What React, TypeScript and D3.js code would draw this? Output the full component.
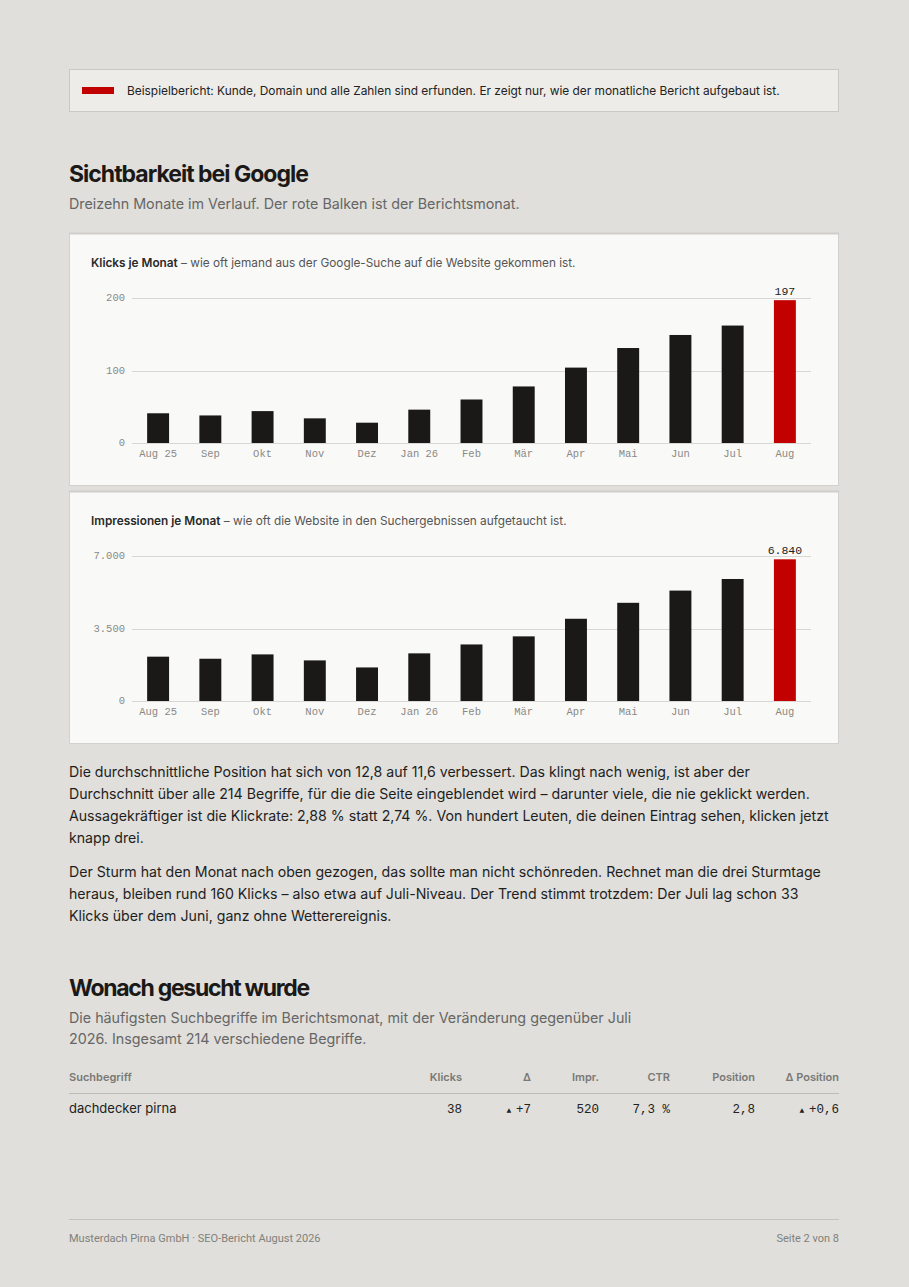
import { useEffect, useRef } from 'react';
import * as d3 from 'd3';

const months = ['Aug 25', 'Sep', 'Okt', 'Nov', 'Dez', 'Jan 26', 'Feb', 'Mär', 'Apr', 'Mai', 'Jun', 'Jul', 'Aug'];
const clicks = [41, 38, 44, 34, 28, 46, 60, 78, 104, 131, 149, 162, 197];
const impressions = [2140, 2040, 2250, 1960, 1620, 2300, 2730, 3120, 3970, 4740, 5330, 5890, 6840];
const clickTicks = [0, 100, 200];
const imprTicks = [0, 3500, 7000];

const tableHeaders = ['Suchbegriff', 'Klicks', 'Δ', 'Impr.', 'CTR', 'Position', 'Δ Position'];
const tableRow = ['dachdecker pirna', '38', '+7', '520', '7,3 %', '2,8', '+0,6'];

const paragraph1 = [
  'Die durchschnittliche Position hat sich von 12,8 auf 11,6 verbessert. Das klingt nach wenig, ist aber der',
  'Durchschnitt über alle 214 Begriffe, für die die Seite eingeblendet wird – darunter viele, die nie geklickt werden.',
  'Aussagekräftiger ist die Klickrate: 2,88 % statt 2,74 %. Von hundert Leuten, die deinen Eintrag sehen, klicken jetzt',
  'knapp drei.',
];
const paragraph2 = [
  'Der Sturm hat den Monat nach oben gezogen, das sollte man nicht schönreden. Rechnet man die drei Sturmtage',
  'heraus, bleiben rund 160 Klicks – also etwa auf Juli-Niveau. Der Trend stimmt trotzdem: Der Juli lag schon 33',
  'Klicks über dem Juni, ganz ohne Wetterereignis.',
];

const W = 909;
const H = 1287;
const SANS = "Inter, 'Noto Sans', sans-serif";
const MONO = "'Liberation Mono', 'DejaVu Sans Mono', monospace";
const NARROW = "'Liberation Sans Narrow', Roboto, sans-serif";
const RED = '#c20000';
const INK = '#1b1917';

const de = d3.formatLocale({ decimal: ',', thousands: '.', grouping: [3], currency: ['', ' €'] });
const fmt = de.format(',');

type Svg = d3.Selection<SVGSVGElement, unknown, null, undefined>;

function drawCard(
  svg: Svg,
  top: number,
  title: string,
  note: string,
  values: number[],
  ticks: number[],
) {
  const left = 69;
  const right = 839;
  svg.append('rect')
    .attr('x', left + 0.5)
    .attr('y', top + 0.5)
    .attr('width', right - left - 1)
    .attr('height', 252)
    .attr('fill', '#f9f9f7')
    .attr('stroke', '#d2d1cd');
  svg.append('line')
    .attr('x1', left).attr('x2', right)
    .attr('y1', top + 0.5).attr('y2', top + 0.5)
    .attr('stroke', '#cfceca').attr('stroke-width', 2);

  const head = svg.append('text')
    .attr('x', 91)
    .attr('y', top + 34)
    .attr('font-family', SANS)
    .attr('font-size', 11.8)
    .attr('fill', '#555');
  head.append('tspan').attr('font-weight', 600).attr('fill', '#2a2a2a').text(title);
  head.append('tspan').text(` – ${note}`);

  const y = d3.scaleLinear().domain([0, ticks[ticks.length - 1]]).range([top + 210, top + 65]);
  const x = d3.scaleBand<string>().domain(months).range([132, 811]).paddingInner(0.58).paddingOuter(0.29);

  const g = svg.append('g');
  ticks.forEach((t) => {
    g.append('line')
      .attr('x1', 132)
      .attr('x2', 811)
      .attr('y1', Math.round(y(t)) + 0.5)
      .attr('y2', Math.round(y(t)) + 0.5)
      .attr('stroke', '#d8d7d3');
    g.append('text')
      .attr('x', 125)
      .attr('y', y(t))
      .attr('text-anchor', 'end')
      .attr('dominant-baseline', 'central')
      .attr('font-family', MONO)
      .attr('font-size', 10.5)
      .attr('fill', '#8a8985')
      .text(fmt(t));
  });

  values.forEach((v, i) => {
    const last = i === values.length - 1;
    g.append('rect')
      .attr('x', x(months[i])!)
      .attr('y', y(v))
      .attr('width', x.bandwidth())
      .attr('height', y(0) - y(v))
      .attr('fill', last ? RED : INK);
    g.append('text')
      .attr('x', x(months[i])! + x.bandwidth() / 2)
      .attr('y', y(0) + 14)
      .attr('text-anchor', 'middle')
      .attr('font-family', MONO)
      .attr('font-size', 10.5)
      .attr('fill', '#8a8985')
      .text(months[i]);
    if (last) {
      g.append('text')
        .attr('x', x(months[i])! + x.bandwidth() / 2)
        .attr('y', y(v) - 5)
        .attr('text-anchor', 'middle')
        .attr('font-family', MONO)
        .attr('font-size', 11.5)
        .attr('fill', '#222')
        .text(fmt(v));
    }
  });
}

export default function App() {
  const svgRef = useRef<SVGSVGElement>(null);

  useEffect(() => {
    if (!svgRef.current) return;
    const svg = d3.select(svgRef.current);
    svg.selectAll('*').remove();

    svg.append('rect').attr('width', W).attr('height', H).attr('fill', '#e0dfdb');

    // notice box
    svg.append('rect')
      .attr('x', 69.5).attr('y', 69.5).attr('width', 769).attr('height', 42)
      .attr('fill', '#edece8').attr('stroke', '#c9c8c4');
    svg.append('rect').attr('x', 82).attr('y', 87).attr('width', 32).attr('height', 7).attr('fill', RED);
    svg.append('text')
      .attr('x', 127).attr('y', 95)
      .attr('font-family', SANS).attr('font-size', 11.9).attr('fill', '#222')
      .text('Beispielbericht: Kunde, Domain und alle Zahlen sind erfunden. Er zeigt nur, wie der monatliche Bericht aufgebaut ist.');

    // section 1
    svg.append('text')
      .attr('x', 69).attr('y', 182)
      .attr('font-family', SANS).attr('font-size', 23).attr('font-weight', 700)
      .attr('letter-spacing', -1).attr('fill', INK)
      .text('Sichtbarkeit bei Google');
    svg.append('text')
      .attr('x', 69).attr('y', 209)
      .attr('font-family', SANS).attr('font-size', 14.3).attr('fill', '#666')
      .text('Dreizehn Monate im Verlauf. Der rote Balken ist der Berichtsmonat.');

    drawCard(svg, 233, 'Klicks je Monat', 'wie oft jemand aus der Google-Suche auf die Website gekommen ist.', clicks, clickTicks);
    drawCard(svg, 491, 'Impressionen je Monat', 'wie oft die Website in den Suchergebnissen aufgetaucht ist.', impressions, imprTicks);

    const para = (lines: string[], start: number) => {
      lines.forEach((l, i) => {
        svg.append('text')
          .attr('x', 69).attr('y', start + i * 22)
          .attr('font-family', SANS).attr('font-size', 14.15).attr('fill', '#1e1e1e')
          .text(l);
      });
    };
    para(paragraph1, 777);
    para(paragraph2, 877);

    // section 2
    svg.append('text')
      .attr('x', 69).attr('y', 996)
      .attr('font-family', SANS).attr('font-size', 23).attr('font-weight', 700)
      .attr('letter-spacing', -1.3).attr('fill', INK)
      .text('Wonach gesucht wurde');
    ['Die häufigsten Suchbegriffe im Berichtsmonat, mit der Veränderung gegenüber Juli', '2026. Insgesamt 214 verschiedene Begriffe.']
      .forEach((l, i) => {
        svg.append('text')
          .attr('x', 69).attr('y', 1023 + i * 21)
          .attr('font-family', SANS).attr('font-size', 14.3).attr('fill', '#666')
          .text(l);
      });

    // table
    const colRight = [0, 462, 531, 599, 670, 755, 839];
    tableHeaders.forEach((h, i) => {
      svg.append('text')
        .attr('x', i === 0 ? 69 : colRight[i])
        .attr('y', 1081)
        .attr('text-anchor', i === 0 ? 'start' : 'end')
        .attr('font-family', SANS).attr('font-size', 11).attr('font-weight', 600).attr('fill', '#7a7975')
        .text(h);
    });
    svg.append('line').attr('x1', 69).attr('x2', 839).attr('y1', 1093.5).attr('y2', 1093.5).attr('stroke', '#bdbcb8');
    tableRow.forEach((v, i) => {
      const t = svg.append('text')
        .attr('x', i === 0 ? 69 : colRight[i])
        .attr('y', 1113)
        .attr('text-anchor', i === 0 ? 'start' : 'end')
        .attr('font-family', i === 0 ? SANS : MONO)
        .attr('font-size', i === 0 ? 13 : 12.5)
        .attr('fill', '#222');
      if (i === 2 || i === 6) {
        t.append('tspan').attr('font-size', 8).text('▲ ');
      }
      t.append('tspan').text(v);
    });

    // footer
    svg.append('line').attr('x1', 69).attr('x2', 839).attr('y1', 1219.5).attr('y2', 1219.5).attr('stroke', '#c4c3bf');
    svg.append('text')
      .attr('x', 69).attr('y', 1242)
      .attr('font-family', NARROW).attr('font-size', 11).attr('fill', '#807f7b')
      .text('Musterdach Pirna GmbH · SEO-Bericht August 2026');
    svg.append('text')
      .attr('x', 839).attr('y', 1242).attr('text-anchor', 'end')
      .attr('font-family', NARROW).attr('font-size', 11).attr('fill', '#807f7b')
      .text('Seite 2 von 8');
  }, []);

  return (
    <svg
      ref={svgRef}
      width={W}
      height={H}
      style={{ position: 'absolute', left: 0, top: 0, display: 'block' }}
    />
  );
}
